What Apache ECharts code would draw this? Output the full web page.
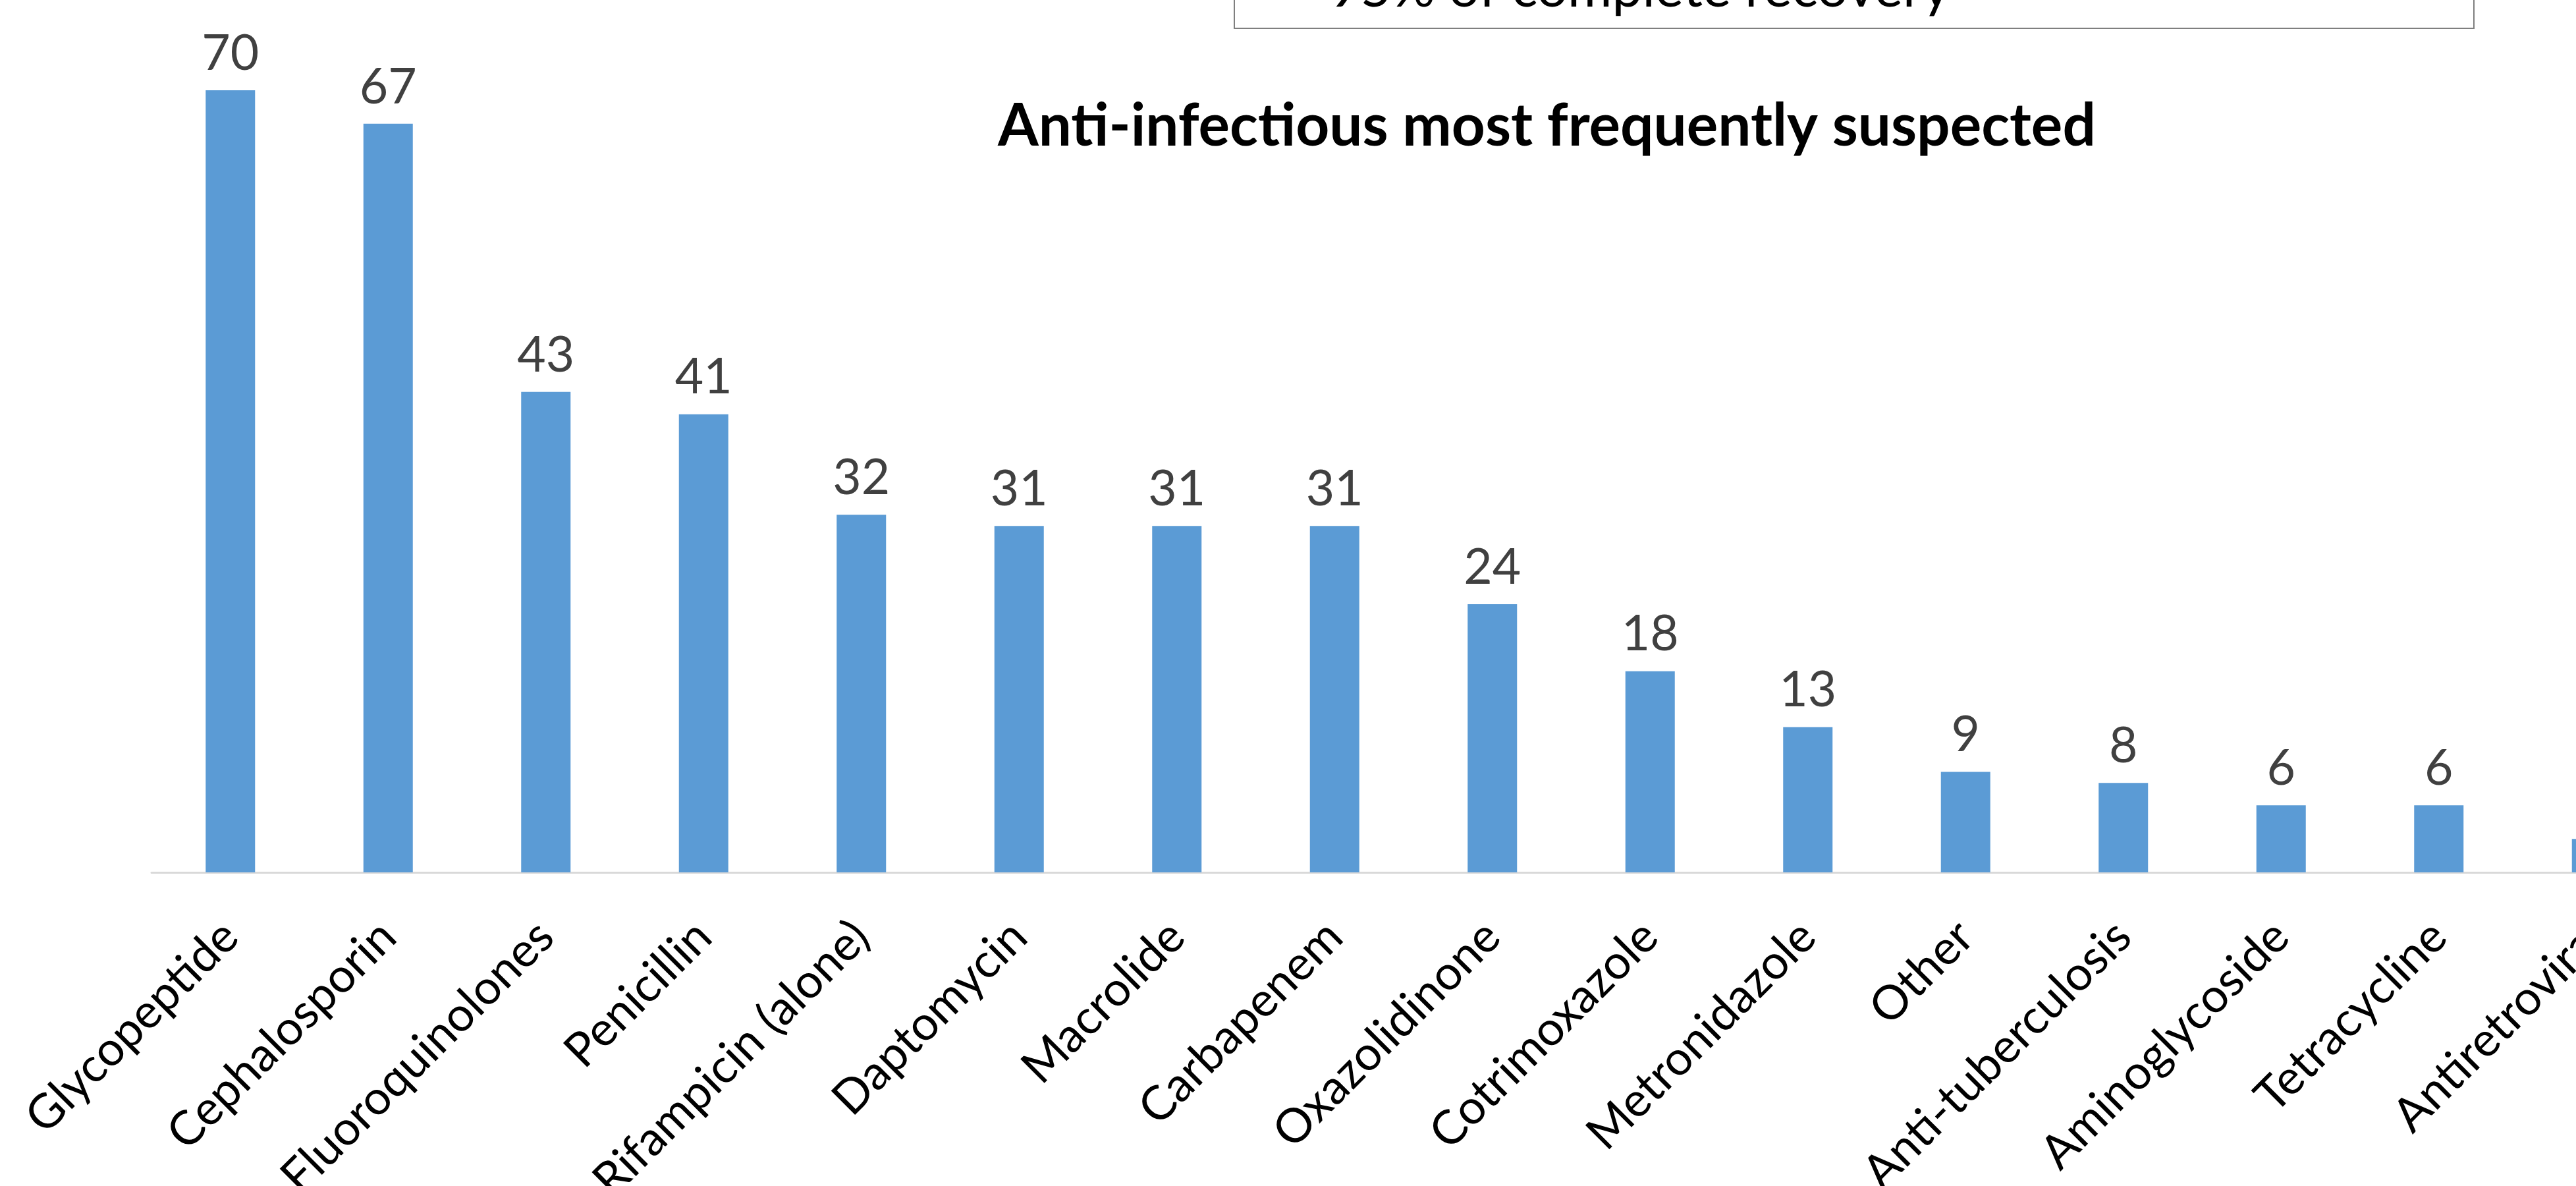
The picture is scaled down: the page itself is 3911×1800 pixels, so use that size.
<!DOCTYPE html>
<html>
<head>
<meta charset="utf-8">
<script src="https://cdn.jsdelivr.net/npm/echarts@6/dist/echarts.min.js"></script>
<style>
  html, body { margin: 0; padding: 0; background: #fff; overflow: hidden; }
  #main { width: 3911px; height: 1800px; }
</style>
</head>
<body>
<div id="main"></div>
<script>
var chart = echarts.init(document.getElementById('main'));

var titleText = 'Anti-infectious most frequently suspected';
var boxText = '95% of complete recovery';

var drugs = ['Glycopeptide', 'Cephalosporin', 'Fluoroquinolones', 'Penicillin',
    'Rifampicin (alone)', 'Daptomycin', 'Macrolide', 'Carbapenem', 'Oxazolidinone',
    'Cotrimoxazole', 'Metronidazole', 'Other', 'Anti-tuberculosis', 'Aminoglycoside',
    'Tetracycline', 'Antiretroviral'];
var counts = [70, 67, 43, 41, 32, 31, 31, 31, 24, 18, 13, 9, 8, 6, 6, 3];

var font = 'Lato';

var option = {
    backgroundColor: '#fff',
    animation: false,
    title: {
        text: titleText,
        left: 1510,
        top: 143,
        textStyle: {
            fontFamily: font,
            fontWeight: 'bold',
            fontSize: 89,
            color: '#000'
        }
    },
    grid: {
        left: 230,
        right: -151,
        top: 137,
        bottom: 476,
        containLabel: false,
        outerBoundsMode: 'none'
    },
    xAxis: {
        type: 'category',
        data: drugs,
        axisLine: {
            lineStyle: { color: '#d9d9d9', width: 3 }
        },
        axisTick: { show: false },
        axisLabel: {
            interval: 0,
            rotate: 45,
            margin: 86,
            fontFamily: font,
            fontSize: 72,
            color: '#000'
        }
    },
    yAxis: {
        type: 'value',
        min: 0,
        max: 70,
        show: false
    },
    series: [{
        type: 'bar',
        data: counts,
        barWidth: 75,
        itemStyle: { color: '#5b9bd5' },
        label: {
            show: true,
            position: 'top',
            distance: 18,
            fontFamily: font,
            fontSize: 75,
            color: '#404040'
        }
    }],
    graphic: [{
        type: 'rect',
        shape: { x: 1874, y: -300, width: 1882, height: 343 },
        style: { fill: 'none', stroke: '#7f7f7f', lineWidth: 2 }
    }, {
        type: 'text',
        x: 2018,
        y: -16,
        style: {
            text: boxText,
            fontFamily: font,
            fontSize: 82,
            fill: '#000',
            verticalAlign: 'middle'
        }
    }]
};

chart.setOption(option);
</script>
</body>
</html>
